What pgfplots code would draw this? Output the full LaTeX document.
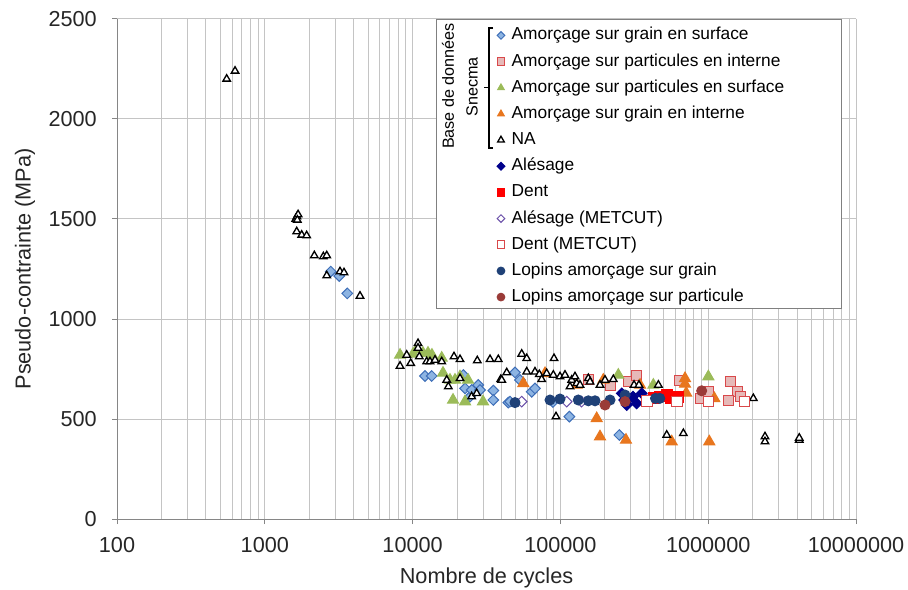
\documentclass[border=0pt]{standalone}
\usepackage{pgfplots}
\pgfplotsset{compat=1.18}
\usepackage{fontspec}
\setmainfont{Liberation Sans}
\definecolor{axisgray}{HTML}{868686}
\definecolor{gridgray}{HTML}{C4C4C4}
\definecolor{gsurfF}{HTML}{8DB4E2}
\definecolor{gsurfD}{HTML}{3F6FB8}
\definecolor{pintF}{HTML}{E6B9B8}
\definecolor{pintD}{HTML}{D9484A}
\definecolor{psurf}{HTML}{9BBB59}
\definecolor{gint}{HTML}{E8761E}
\definecolor{navy}{HTML}{00008B}
\definecolor{mcutpurple}{HTML}{6A4FA8}
\definecolor{lopgrain}{HTML}{1F4177}
\definecolor{lopparti}{HTML}{9A3B38}
\pgfdeclareplotmark{xdiamond*}{%
  \pgfpathmoveto{\pgfqpoint{0pt}{\pgfplotmarksize}}%
  \pgfpathlineto{\pgfqpoint{\pgfplotmarksize}{0pt}}%
  \pgfpathlineto{\pgfqpoint{0pt}{-\pgfplotmarksize}}%
  \pgfpathlineto{\pgfqpoint{-\pgfplotmarksize}{0pt}}%
  \pgfpathclose\pgfusepathqfillstroke}
\begin{document}
\begin{tikzpicture}
\begin{axis}[
  at={(0,0)}, anchor=south west,
  scale only axis, width=443.4pt, height=300pt,
  xmode=log, log basis x=10,
  xmin=100, xmax=1e7, ymin=0, ymax=2500,
  axis lines=left,
  axis line style={-, draw=axisgray, line width=0.6pt},
  xtick={100,1000,10000,100000,1000000,10000000},
  xticklabels={100,1000,10000,100000,1000000,10000000},
  minor xtick={200,300,400,500,600,700,800,900,
    2000,3000,4000,5000,6000,7000,8000,9000,
    20000,30000,40000,50000,60000,70000,80000,90000,
    200000,300000,400000,500000,600000,700000,800000,900000,
    2000000,3000000,4000000,5000000,6000000,7000000,8000000,9000000},
  ytick={0,500,1000,1500,2000,2500},
  yticklabels={0,500,1000,1500,2000,2500},
  tick align=outside, major tick length=3pt, minor tick length=0pt,
  tick style={draw=axisgray, line width=0.6pt},
  xmajorgrids, xminorgrids, ymajorgrids,
  grid style={draw=gridgray, line width=0.6pt},
  minor grid style={draw=gridgray, line width=0.6pt},
  ticklabel style={font=\fontsize{13}{15}\selectfont, text=black!85},
  xticklabel style={anchor=north, inner sep=0pt, yshift=-8pt},
  yticklabel style={anchor=east, inner sep=0pt, xshift=-9pt},
  xlabel={Nombre de cycles},
  ylabel={Pseudo-contrainte (MPa)},
  label style={font=\fontsize{13}{15}\selectfont, text=black!85},
  xlabel style={at={(axis description cs:0.5,-0.097)}, anchor=north, inner sep=0pt},
  ylabel style={at={(axis description cs:-0.1245,0.5)}, anchor=center, inner sep=0pt},
  clip=false,
  legend image code/.code={\path (0pt,0pt) (8pt,0pt); \draw[#1, mark size=2.3pt] plot coordinates {(4pt,0pt)};},
  legend style={at={(rel axis cs:0.5092,0.984)}, anchor=north west, draw=none, fill=none,
    inner sep=0pt, row sep=6pt, column sep=2pt,
    font=\fontsize{10.4}{12}\selectfont,
    nodes={inner xsep=0pt, inner ysep=0pt, text height=7.5pt, text depth=2.2pt},
    cells={anchor=west}},
  every axis plot/.append style={only marks, line width=0.6pt},
]
% Amorcage sur grain en surface
\addplot[mark=xdiamond*, mark size=3.2pt, draw=gsurfD, fill=gsurfF] coordinates {
(2793,1237)(3190,1215)(3614,1128)(12130,715)(13460,715)(22040,720)(22630,653)
(24460,612)(25100,645)(27810,670)(28560,645)(35160,642)(35160,595)(44440,582)
(45620,587)(49290,733)(53300,695)(63950,636)(67300,653)(89000,585)(115000,512)(250400,420)};
\addlegendentry{Amorçage sur grain en surface}
% Amorcage sur particules en interne
\addplot[mark=square*, mark size=3pt, draw=pintD, fill=pintF] coordinates {
(154500,698)(216600,670)(287900,686)(328300,720)(640000,692)(880000,603)(1000000,636)
(1405000,686)(1570000,636)(1367000,595)(1650000,612)};
\addlegendentry{Amorçage sur particules en interne}
% Amorcage sur particules en surface
\addplot[mark=triangle*, mark size=3.8pt, draw=psurf, fill=psurf] coordinates {
(8222,820)(10070,825)(10660,848)(11750,830)(12710,830)(13520,820)(15740,805)(16060,730)
(17910,695)(19360,695)(20930,712)(23720,695)(18770,595)(22630,587)(29940,587)
(246500,720)(425500,670)(1002000,712)};
\addlegendentry{Amorçage sur particules en surface}
% Amorcage sur grain en interne
\addplot[mark=triangle*, mark size=3.8pt, draw=gint, fill=gint] coordinates {
(56100,678)(78680,728)(128900,670)(195100,695)(176000,503)(185300,412)(277800,395)
(345800,670)(696700,703)(696700,675)(710000,630)(1100000,603)(566200,387)(1017000,387)};
\addlegendentry{Amorçage sur grain en interne}
% NA
\addplot[mark=triangle*, mark size=2.6pt, draw=black, fill=white, line width=0.8pt] coordinates {
(552,2200)(629,2240)(1620,1500)(1650,1512)(1680,1522)(1660,1495)(1644,1437)(1777,1420)
(1920,1417)(2163,1317)(2489,1312)(2624,1317)(2624,1217)(3227,1237)(3435,1232)(4406,1115)
(8222,765)(9120,820)(9705,779)(10880,878)(10880,855)(11100,812)(12450,787)(13110,787)
(14180,795)(15740,787)(19060,812)(20930,798)(27390,792)(33400,798)(38000,798)(43330,732)
(39450,698)(17010,695)(17450,662)(20930,703)(25100,612)(27140,628)(40090,695)(54730,825)
(59160,803)(90530,803)(59160,736)(67300,736)(71980,723)(74680,698)(80750,728)(89560,720)
(99340,712)(107400,720)(119200,695)(125500,712)(116100,662)(128900,678)(135700,670)
(154500,703)(158600,686)(185300,670)(200400,695)(228000,698)(315000,670)(340000,670)
(460000,670)(93350,512)(523900,420)(679000,428)(2020000,603)(2422000,412)(2422000,387)
(4130000,395)(4130000,405)};
\addlegendentry{NA}
% Alesage
\addplot[mark=xdiamond*, mark size=3.2pt, draw=navy, fill=navy] coordinates {
(260000,628)(270000,595)(281000,570)(290000,600)(310000,612)(328000,578)(355000,628)(404000,603)};
\addlegendentry{Alésage}
% Dent
\addplot[mark=square*, mark size=3.2pt, draw=red, fill=red] coordinates {
(425500,605)(470000,612)(523900,620)(560000,603)(625000,610)};
\addlegendentry{Dent}
% Alesage METCUT
\addplot[mark=xdiamond*, mark size=3.2pt, draw=mcutpurple, fill=white] coordinates {
(54730,587)(110300,587)(139000,587)};
\addlegendentry{Alésage (METCUT)}
% Dent METCUT
\addplot[mark=square*, mark size=3.2pt, draw=pintD, fill=white] coordinates {
(383900,591)(612500,587)(1002000,587)(1760000,587)};
\addlegendentry{Dent (METCUT)}
% Lopins amorcage sur grain
\addplot[mark=*, mark size=3pt, draw=lopgrain, fill=lopgrain] coordinates {
(49290,582)(85060,595)(99340,600)(132100,595)(154500,591)(171500,591)(216600,595)
(273600,620)(440000,603)(470000,603)};
\addlegendentry{Lopins amorçage sur grain}
% Lopins amorcage sur particule
\addplot[mark=*, mark size=3pt, draw=lopparti, fill=lopparti] coordinates {
(200400,570)(273600,587)(903200,641)};
\addlegendentry{Lopins amorçage sur particule}
% legend frame
\draw[draw=gray, fill=white, line width=0.6pt] (rel axis cs:0.4317,0.422) rectangle (rel axis cs:0.9797,0.998);
\end{axis}
% bracket annotation for legend group
\draw[line width=0.8pt] (225.6pt,294.6pt) -- (223.2pt,294.6pt) -- (223.2pt,222.6pt) -- (225.6pt,222.6pt);
\draw[line width=0.8pt] (223.2pt,258.8pt) -- (220.2pt,258.8pt);
\node[rotate=90, font=\fontsize{9.7}{12}\selectfont, inner sep=0pt] at (198.6pt,259.8pt) {Base de données};
\node[rotate=90, font=\fontsize{9.7}{12}\selectfont, inner sep=0pt] at (213pt,259.2pt) {Snecma};
\pgfresetboundingbox
\path (-70.2pt,-42pt) rectangle (474.6pt,311.4pt);
\end{tikzpicture}
\end{document}
